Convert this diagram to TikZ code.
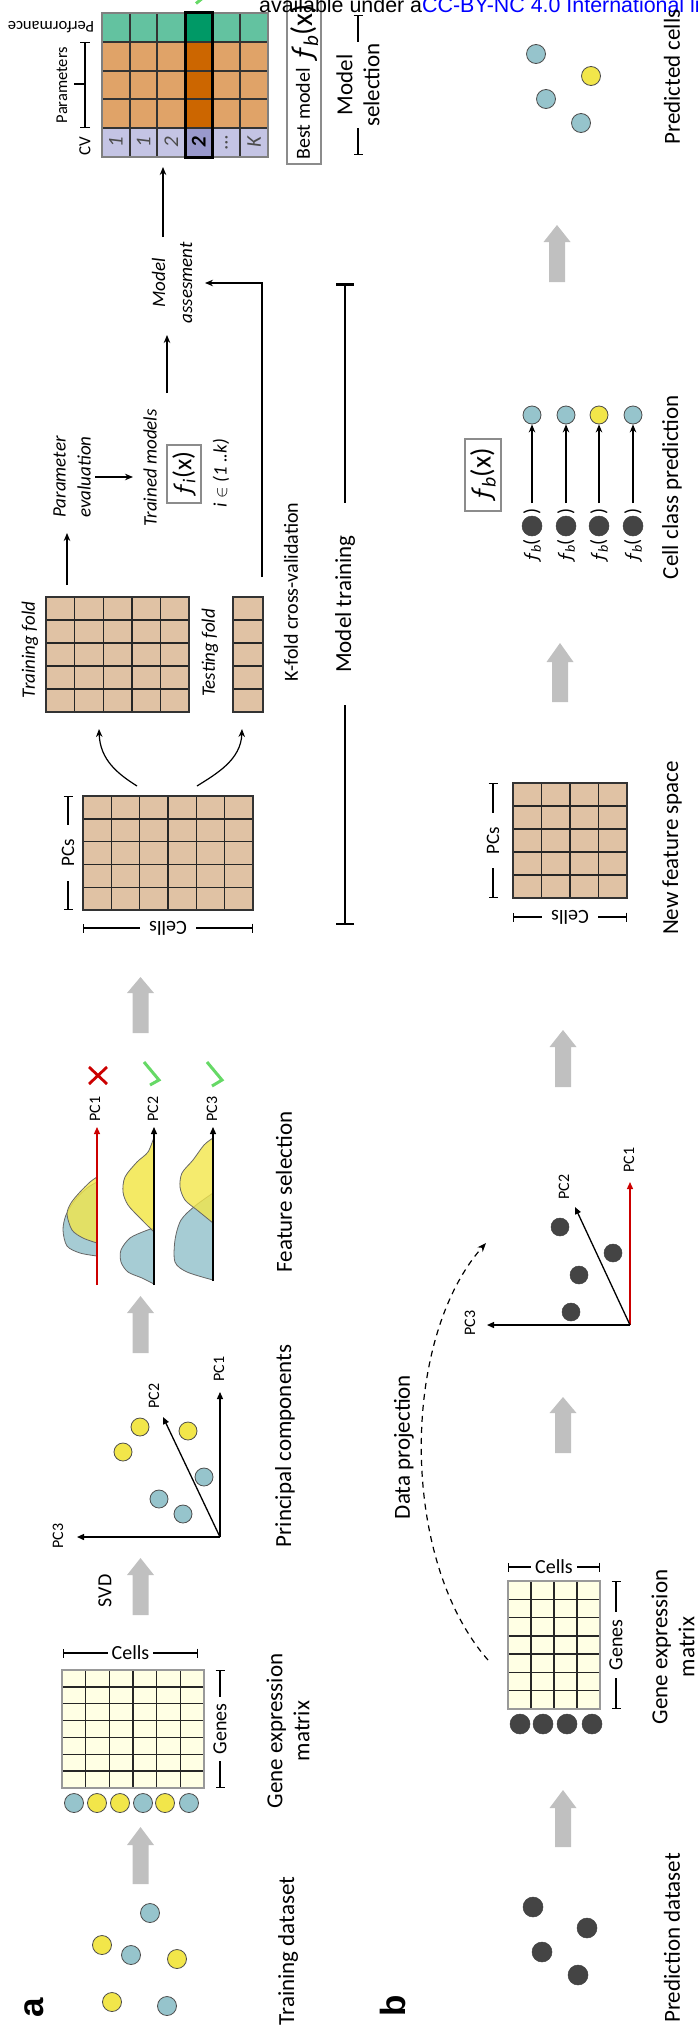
\documentclass[tikz,border=0pt]{standalone}
\usepackage{fontspec}
\setmainfont{Carlito}
\newfontfamily\arialf{Liberation Sans}
\usetikzlibrary{arrows.meta}
\definecolor{cblue}{RGB}{150,196,204}
\definecolor{cyel}{RGB}{242,230,74}
\definecolor{cdark}{RGB}{68,68,68}
\definecolor{ctan}{RGB}{224,194,164}
\definecolor{cly}{RGB}{255,255,228}
\definecolor{cgray}{RGB}{192,192,192}
\definecolor{pgreen}{RGB}{99,194,160}
\definecolor{dgreen}{RGB}{0,153,102}
\definecolor{porange}{RGB}{224,163,104}
\definecolor{dorange}{RGB}{204,102,0}
\definecolor{plav}{RGB}{196,196,228}
\definecolor{dlav}{RGB}{153,153,204}
\definecolor{cred}{RGB}{204,0,0}
\definecolor{cgreen}{RGB}{102,217,102}
\definecolor{dblue}{RGB}{166,204,212}
\newcommand{\fsz}[2]{\fontsize{#1}{#2}\selectfont}
\newcommand{\garrow}[4]{\fill[cgray] (#1,#2) -- (#1+13.5,#3) -- (#1+8,#3) -- (#1+8,#4) -- (#1-8,#4) -- (#1-8,#3) -- (#1-13.5,#3) -- cycle;}
\newcommand{\matgrid}[8]{%
  \fill[#7] (#1,#2) rectangle (#3,#4);
  \pgfmathtruncatemacro\ncm{#5-1}%
  \pgfmathtruncatemacro\nrm{#6-1}%
  \foreach \k in {1,...,\ncm}{\draw[gline] ({#1+(#3-#1)*\k/#5},#2) -- ({#1+(#3-#1)*\k/#5},#4);}%
  \foreach \k in {1,...,\nrm}{\draw[gline] (#1,{#2+(#4-#2)*\k/#6}) -- (#3,{#2+(#4-#2)*\k/#6});}%
  \draw[#8,line width=1.6pt] (#1,#2) rectangle (#3,#4);
}
\begin{document}
\begin{tikzpicture}[x=1pt,y=-1pt,
  lab/.style={rotate=90,font=\fsz{23}{27},align=center,inner sep=0pt},
  itl/.style={rotate=90,font=\fsz{19}{25}\itshape,align=center,inner sep=0pt},
  pcl/.style={rotate=90,font=\fsz{16}{19},inner sep=0pt},
  blab/.style={font=\fsz{20}{24},fill=white,inner ysep=0pt},
  brk/.style={line width=1.3pt,{Bar[width=9pt]}-{Bar[width=9pt]}},
  arr/.style={line width=1.3pt,-{Stealth[length=8pt,width=6.5pt]}},
  axarr/.style={line width=1.3pt,-{Triangle[length=7pt,width=6pt]}},
  gline/.style={line width=1.4pt,draw=black!85},
  cb/.style={circle,draw=black!70,line width=0.8pt,fill=cblue,inner sep=0pt,minimum size=19pt},
  cy/.style={cb,fill=cyel},
  cd/.style={circle,fill=cdark,draw=black!75,line width=0.5pt,inner sep=0pt,minimum size=20pt},
  dist/.style={draw=black!60,line width=0.8pt},
  chk/.style={cgreen,line width=3pt},
]
\useasboundingbox (0,0) rectangle (697,2034);
\clip (0,0) rectangle (697,2034);

% ================= PANEL A =================
\node[font=\arialf\bfseries\fsz{35}{40},rotate=90,inner sep=0pt] (la) at (34,2008) {a};
\node[lab] (tds) at (288,1951) {Training dataset};
\node[cb] (ta1) at (150,1913) {};
\node[cy] (ta2) at (102,1945) {};
\node[cb] (ta3) at (131,1955) {};
\node[cy] (ta4) at (177,1959) {};
\node[cy] (ta5) at (112,2002) {};
\node[cb] (ta6) at (167,2006) {};
\garrow{140.5}{1827}{1845}{1884}

% gene expression matrix a
\matgrid{62}{1670}{204}{1788}{6}{7}{cly}{black!40}
\node[cb] (ra1) at (74,1803) {};
\node[cy] (ra2) at (97,1803) {};
\node[cy] (ra3) at (120,1803) {};
\node[cb] (ra4) at (143,1803) {};
\node[cy] (ra5) at (165,1803) {};
\node[cb] (ra6) at (189,1803) {};
\draw[brk] (63,1653) -- (198,1653) node[midway,blab,inner xsep=4pt] (cellsa) {Cells};
\draw[brk] (220,1670) -- (220,1788) node[midway,blab,rotate=90,inner xsep=7pt] (genesa) {Genes};
\node[lab] (gema) at (288,1731) {Gene expression\\matrix};

% SVD
\garrow{140.5}{1558}{1575}{1615}
\node[rotate=90,font=\fsz{20}{24},inner sep=0pt] (svd) at (105,1591) {SVD};

% principal components plot
\coordinate (oa) at (220,1537);
\coordinate (pc1a) at (220,1392);
\coordinate (pc2a) at (163,1417);
\coordinate (pc3a) at (77,1537);
\draw[axarr] (oa) -- (pc1a);
\draw[axarr] (oa) -- (pc2a);
\draw[axarr] (oa) -- (pc3a);
\node[pcl] (lpc1a) at (219,1369) {PC1};
\node[pcl] (lpc2a) at (154,1396) {PC2};
\node[pcl] (lpc3a) at (58,1536) {PC3};
\node[cy,minimum size=18pt] (pa1) at (140,1427) {};
\node[cy,minimum size=18pt] (pa2) at (188,1431) {};
\node[cy,minimum size=18pt] (pa3) at (123,1452) {};
\node[cb,minimum size=18pt] (pa4) at (204,1477) {};
\node[cb,minimum size=18pt] (pa5) at (159,1499) {};
\node[cb,minimum size=18pt] (pa6) at (183,1514) {};
\node[lab] (pcomp) at (285,1446) {Principal components};
\garrow{140.5}{1296}{1313}{1353}

% feature selection
\fill[dblue,dist] plot[smooth] coordinates {(97,1182) (87,1188) (75,1200) (66,1215) (63,1230) (67,1246) (80,1253) (97,1256)} -- cycle;
\fill[cyel,fill opacity=0.8,dist] plot[smooth] coordinates {(97,1177) (90,1182) (80,1192) (71,1203) (67,1214) (72,1230) (83,1238) (97,1243)} -- cycle;
\fill[dblue,dist] plot[smooth] coordinates {(154,1228) (145,1231) (130,1238) (121,1250) (121,1262) (128,1272) (142,1278) (154,1284)} -- cycle;
\fill[cyel,fill opacity=0.85,dist] plot[smooth] coordinates {(154,1137) (148,1152) (137,1162) (125,1177) (123,1192) (128,1205) (140,1218) (154,1232)} -- cycle;
\fill[dblue,dist] plot[smooth] coordinates {(213,1193) (195,1206) (181,1220) (175,1240) (175,1262) (187,1272) (213,1280)} -- cycle;
\fill[cyel,fill opacity=0.8,dist] plot[smooth] coordinates {(213,1138) (204,1145) (193,1160) (182,1173) (180,1187) (185,1200) (197,1210) (213,1223)} -- cycle;
\draw[axarr,cred] (97,1285) -- (97,1127);
\draw[axarr] (154,1285) -- (154,1127);
\draw[axarr] (213,1281) -- (213,1127);
\node[pcl] (fpc1) at (95,1109) {PC1};
\node[pcl] (fpc2) at (153,1109) {PC2};
\node[pcl] (fpc3) at (212,1109) {PC3};
\draw[cred,line width=2.8pt] (89,1067) -- (107,1084) (89,1084) -- (107,1067);
\draw[chk] (144,1062) -- (159,1080) -- (150,1085);
\draw[chk] (207,1062) -- (222,1080) -- (212,1086);
\node[lab] (fsel) at (284,1192) {Feature selection};
\garrow{140.5}{977}{993}{1033}

% PC matrix
\matgrid{83}{796}{253}{910}{6}{5}{ctan}{black!80}
\draw[brk] (68,796) -- (68,910) node[midway,blab,rotate=90,font=\fsz{19}{22},inner xsep=14pt] (pcsa) {PCs};
\draw[brk] (83,928) -- (253,928) node[midway,blab,rotate=180,inner xsep=9pt] (cellspa) {Cells};
\coordinate (spl1) at (137,786);
\coordinate (spl2) at (197,786);
\coordinate (trtop) at (99,729);
\coordinate (tetop) at (242,729);
\draw[arr,line width=1.2pt] (spl1) .. controls (118,774) and (100,760) .. (trtop);
\draw[arr,line width=1.2pt] (spl2) .. controls (216,774) and (241,760) .. (tetop);

% folds
\matgrid{46}{597}{189}{712}{5}{5}{ctan}{black!80}
\matgrid{233}{597}{263}{712}{1}{5}{ctan}{black!80}
\node[itl] (trf) at (30,650) {Training fold};
\node[itl] (tef) at (210,653) {Testing fold};
\node[rotate=90,font=\fsz{20}{24},inner sep=0pt] (kfold) at (291,592) {K-fold cross-validation};
\draw[line width=2.5pt,{Bar[width=18pt]}-{Bar[width=18pt]}] (345,283) -- (345,925) node[midway,blab,rotate=90,font=\fsz{23}{27},inner xsep=32pt] (mtrain) {Model training};

% parameter evaluation chain
\node[itl] (peval) at (72,477) {Parameter\\evaluation};
\node[itl] (tmod) at (150,468) {Trained models};
\node[draw=black!45,line width=1.2pt,fill=white,rotate=90,minimum width=58pt,minimum height=34pt,inner sep=0pt,font=\fsz{26}{28}] (fi) at (184,474) {\itshape ƒ\textsubscript{i}\upshape(x)};
\node[itl,font=\fsz{19}{22}\itshape] (iin) at (221,473) {i $\in$ (1 ..k)};
\node[itl,font=\fsz{19}{27}\itshape] (massess) at (172,283) {Model\\assesment};
\draw[arr] (67,585) -- (67,533);
\draw[arr] (95,477) -- (133,477);
\draw[arr] (167,393) -- (167,335);
\draw[arr] (262,577) -- (262,283) -- (205,283);
\draw[arr] (163,237) -- (163,167);

% performance matrix
\fill[pgreen] (102,13) rectangle (268,42);
\fill[porange] (102,42) rectangle (268,128);
\fill[plav] (102,128) rectangle (268,157);
\fill[dgreen] (185,13) rectangle (212.67,42);
\fill[dorange] (185,42) rectangle (212.67,128);
\fill[dlav] (185,128) rectangle (212.67,157);
\foreach \xx in {129.67,157.33,185,212.67,240.33} {\draw[line width=2pt,black!80] (\xx,13) -- (\xx,157);}
\foreach \yy in {42,70.67,99.33,128} {\draw[line width=2pt,black!80] (102,\yy) -- (268,\yy);}
\draw[line width=2.5pt,black!50] (102,13) rectangle (268,157);
\draw[line width=3pt,black] (185,13) rectangle (212.67,157);
\foreach \xx/\tt in {115.8/1,143.5/1,171.2/2,226.5/\dots,254.2/K} {\node[rotate=90,font=\fsz{21}{24}\itshape,text=black!70,inner sep=0pt] at (\xx,142.5) {\tt};}
\node[rotate=90,font=\fsz{21}{24}\itshape\bfseries,inner sep=0pt] (best2) at (198.8,142.5) {2};
\node[rotate=180,font=\fsz{16.5}{20},inner sep=0pt] (perf) at (51,27) {Performance};
\node[rotate=90,font=\fsz{16.5}{20},inner sep=0pt] (params) at (62,85) {Parameters};
\node[rotate=90,font=\fsz{17}{20},inner sep=0pt] (cvl) at (85,146) {CV};
\draw[brk,{Bar[width=10pt]}-{Bar[width=10pt]}] (85,42) -- (85,128);
\draw[line width=1.3pt] (85,84) -- (74,84);
\draw[chk] (196,3.5) -- (204,-3);

% best model
\draw[draw=black!45,line width=1.2pt,fill=white] (287,-5) rectangle (321,164);
\node[rotate=90,inner sep=0pt,font=\fsz{20}{22}] (bestm) at (303,114) {Best model};
\node[rotate=90,anchor=base west,inner sep=0pt,font=\fsz{30}{32}] (bestf) at (312,62) {\itshape ƒ\textsubscript{b}\upshape(x)};
\draw[brk] (358,15) -- (358,155) node[midway,blab,rotate=90,align=center,font=\fsz{23}{27},inner xsep=1pt] (msel) {Model\\selection};

% watermark
\node[anchor=base west,inner sep=0pt,font=\arialf\fsz{21.4}{24}] (wm) at (259,13) {available under a\textcolor{blue}{CC-BY-NC 4.0 International license.}};

% ================= PANEL B =================
\node[font=\arialf\bfseries\fsz{35}{40},rotate=90,inner sep=0pt] (lb) at (393,2006) {b};
\node[lab] (pds) at (672,1938) {Prediction dataset};
\node[cd] (pb1) at (533,1907) {};
\node[cd] (pb2) at (587,1928) {};
\node[cd] (pb3) at (542,1952) {};
\node[cd] (pb4) at (578,1975) {};
\garrow{563}{1790}{1808}{1847}

\matgrid{508}{1581}{600}{1709}{4}{7}{cly}{black!40}
\node[cd] (rb1) at (520,1724) {};
\node[cd] (rb2) at (543,1724) {};
\node[cd] (rb3) at (567,1724) {};
\node[cd] (rb4) at (592,1724) {};
\draw[brk] (508,1567) -- (600,1567) node[midway,blab,inner xsep=4pt] (cellsb) {Cells};
\draw[brk] (616,1581) -- (616,1709) node[midway,blab,rotate=90,inner xsep=8pt] (genesb) {Genes};
\node[lab] (gemb) at (673,1647) {Gene expression\\matrix};

\coordinate (dpstart) at (488,1660);
\coordinate (dpend) at (486,1243);
\draw[line width=1.2pt,dash pattern=on 6pt off 5pt,-{Stealth[length=9pt,width=7pt]}] (dpstart) .. controls (400,1560) and (400,1340) .. (dpend);
\node[lab] (dproj) at (404,1447) {Data projection};
\garrow{563}{1397}{1413}{1453}

\coordinate (ob) at (630,1325);
\coordinate (pc1b) at (630,1182);
\coordinate (pc2b) at (575,1207);
\coordinate (pc3b) at (487,1325);
\draw[axarr,cred] (ob) -- (pc1b);
\draw[axarr] (ob) -- (pc2b);
\draw[axarr] (ob) -- (pc3b);
\node[pcl] (lpc1b) at (629,1160) {PC1};
\node[pcl] (lpc2b) at (564,1187) {PC2};
\node[pcl] (lpc3b) at (470,1323) {PC3};
\node[cd,minimum size=18pt] (qb1) at (571,1312) {};
\node[cd,minimum size=18pt] (qb2) at (579,1275) {};
\node[cd,minimum size=18pt] (qb3) at (613,1253) {};
\node[cd,minimum size=18pt] (qb4) at (560,1227) {};
\garrow{563}{1030}{1047}{1087}

\matgrid{513}{783}{627}{898}{4}{5}{ctan}{black!80}
\draw[brk] (493,783) -- (493,898) node[midway,blab,rotate=90,font=\fsz{19}{22},inner xsep=14pt] (pcsb) {PCs};
\draw[brk] (513,917) -- (627,917) node[midway,blab,rotate=180,inner xsep=9pt] (cellspb) {Cells};
\node[lab] (nfs) at (672,848) {New feature space};
\garrow{560}{643}{662}{702}

\node[draw=black!45,line width=1.2pt,fill=white,rotate=90,minimum width=72pt,minimum height=36pt,inner sep=0pt,font=\fsz{28}{30}] (fb) at (483,475) {\itshape ƒ\textsubscript{b}\upshape(x)};
\foreach \rr/\st [count=\i] in {532/cb,566/cb,599/cy,633/cb} {
  \node[rotate=90,anchor=east,inner sep=0pt,font=\fsz{20}{22}] (fl\i) at (\rr,539) {\itshape ƒ\textsubscript{b}\upshape(};
  \node[cd] (fd\i) at (\rr,526) {};
  \node[rotate=90,anchor=west,inner sep=0pt,font=\fsz{20}{22}] (fr\i) at (\rr,515) {)};
  \node[\st,minimum size=18pt] (res\i) at (\rr,415) {};
  \draw[arr] (\rr,503) -- (res\i);
}
\node[lab] (ccp) at (672,487) {Cell class prediction};
\garrow{557}{225}{242}{282}

\node[cb] (pc1) at (536,54) {};
\node[cy] (pc2) at (591,76) {};
\node[cb] (pc3) at (546,99) {};
\node[cb] (pc4) at (581,123) {};
\node[lab] (pcells) at (672,77) {Predicted cells};
\end{tikzpicture}
\end{document}
